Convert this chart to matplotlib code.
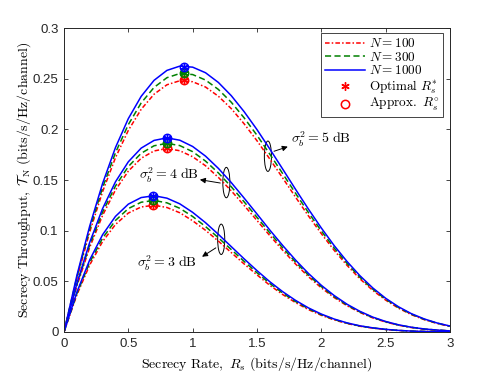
import matplotlib
matplotlib.use("Agg")
import matplotlib.pyplot as plt
from matplotlib.patches import Ellipse

plt.rcParams['mathtext.fontset'] = 'cm'
plt.rcParams['font.family'] = ['Liberation Sans', 'DejaVu Sans']

# secrecy rate grid (bits/s/Hz/channel)
rs = [0.0, 0.1, 0.2, 0.3, 0.4, 0.5, 0.6, 0.7, 0.8, 0.9, 1.0,
      1.1, 1.2, 1.3, 1.4, 1.5, 1.6, 1.7, 1.8, 1.9, 2.0,
      2.1, 2.2, 2.3, 2.4, 2.5, 2.6, 2.7, 2.8, 2.9, 3.0]

# sigma_b^2 = 5 dB
t5_n100 = [0, .0526, .0988, .1385, .1720, .1990, .2198, .2347, .2440, .2480, .2470,
           .2418, .2327, .2205, .2055, .1888, .1707, .1520, .1331, .1146, .0971,
           .0806, .0658, .0525, .0411, .0315, .0235, .0171, .0122, .0084, .0056]
t5_n300 = [0, .0541, .1017, .1425, .1769, .2047, .2261, .2414, .2510, .2551, .2541,
           .2487, .2394, .2268, .2114, .1942, .1755, .1563, .1369, .1179, .0998,
           .0829, .0677, .0540, .0423, .0324, .0242, .0176, .0125, .0087, .0057]
t5_n1000 = [0, .0557, .1046, .1466, .1820, .2106, .2326, .2484, .2582, .2624, .2614,
            .2559, .2463, .2333, .2175, .1998, .1806, .1608, .1408, .1213, .1027,
            .0853, .0696, .0556, .0435, .0333, .0249, .0181, .0129, .0089, .0059]

# sigma_b^2 = 4 dB
t4_n100 = [0, .0453, .0836, .1151, .1401, .1588, .1715, .1787, .1811, .1789, .1730,
           .1641, .1526, .1394, .1249, .1101, .0951, .0807, .0671, .0546, .0436,
           .0340, .0259, .0193, .0139, .0098, .0067, .0044, .0028, .0018, .0010]
t4_n300 = [0, .0466, .0860, .1184, .1441, .1633, .1764, .1838, .1862, .1840, .1780,
           .1687, .1570, .1434, .1285, .1132, .0978, .0830, .0690, .0562, .0448,
           .0350, .0266, .0198, .0143, .0101, .0069, .0046, .0029, .0019, .0011]
t4_n1000 = [0, .0479, .0885, .1218, .1482, .1680, .1815, .1891, .1916, .1893, .1831,
            .1736, .1615, .1475, .1322, .1165, .1006, .0854, .0710, .0578, .0461,
            .0360, .0274, .0204, .0147, .0104, .0071, .0047, .0030, .0019, .0011]

# sigma_b^2 = 3 dB
t3_n100 = [0, .0366, .0662, .0893, .1061, .1174, .1234, .1251, .1229, .1177, .1098,
           .1004, .0897, .0784, .0672, .0564, .0461, .0370, .0290, .0221, .0165,
           .0119, .0084, .0057, .0038, .0024, .0015, .0008, .0005, .0003, .0002]
t3_n300 = [0, .0379, .0687, .0926, .1101, .1218, .1281, .1298, .1275, .1221, .1140,
           .1041, .0930, .0814, .0697, .0585, .0479, .0384, .0301, .0230, .0171,
           .0124, .0087, .0059, .0040, .0025, .0015, .0009, .0005, .0003, .0002]
t3_n1000 = [0, .0393, .0712, .0960, .1141, .1262, .1327, .1345, .1321, .1265, .1181,
            .1079, .0964, .0843, .0722, .0606, .0496, .0398, .0312, .0238, .0177,
            .0128, .0090, .0061, .0041, .0026, .0016, .0009, .0005, .0003, .0002]

# optimal / approximate secrecy rates at the peaks (N = 100, 300, 1000)
opt_rs_5 = [0.93, 0.93, 0.93]
opt_t_5 = [0.2488, 0.2555, 0.2615]
opt_rs_4 = [0.80, 0.80, 0.80]
opt_t_4 = [0.1812, 0.1862, 0.1915]
opt_rs_3 = [0.69, 0.69, 0.69]
opt_t_3 = [0.1252, 0.1300, 0.1347]

n_labels = ['$N = 100$', '$N = 300$', '$N = 1000$']
colors = ['#ff0000', '#008000', '#0000ff']
dashes = [(3.0, 1.4, 1.0, 1.4), (4.0, 2.2), ()]
asterisk = (6, 2, 0)

fig = plt.figure(figsize=(4.98, 3.74), dpi=100)
ax = fig.add_axes([0.1285, 0.1123, 0.775, 0.8127])

groups = [(t5_n100, t5_n300, t5_n1000), (t4_n100, t4_n300, t4_n1000),
          (t3_n100, t3_n300, t3_n1000)]
for gi, grp in enumerate(groups):
    for k in range(3):
        line, = ax.plot(rs, grp[k], color=colors[k], linewidth=1.1,
                        label=n_labels[k] if gi == 0 else None)
        if dashes[k]:
            line.set_dashes(dashes[k])

for xs, ys in [(opt_rs_5, opt_t_5), (opt_rs_4, opt_t_4), (opt_rs_3, opt_t_3)]:
    for k in range(3):
        ax.plot(xs[k], ys[k], marker=asterisk, color=colors[k], markersize=6,
                markeredgewidth=1.0, linestyle='none')
        ax.plot(xs[k], ys[k], marker='o', markerfacecolor='none',
                markeredgecolor=colors[k], markersize=6, markeredgewidth=1.1,
                linestyle='none')

# legend-only handles for the markers
ax.plot([], [], marker=asterisk, color='#ff0000', markersize=6,
        markeredgewidth=1.0, linestyle='none',
        label=r'$\mathrm{Optimal}\ R_s^{*}$')
ax.plot([], [], marker='o', markerfacecolor='none', markeredgecolor='#ff0000',
        markersize=6, markeredgewidth=1.1, linestyle='none',
        label=r'$\mathrm{Approx.}\ R_s^{\circ}$')

# ellipses and labels for each sigma_b^2
ell_w = 0.055
ell_h = 0.030
for cx, cy in [(1.585, 0.1735), (1.262, 0.1475), (1.222, 0.0915)]:
    ax.add_patch(Ellipse((cx, cy), ell_w, ell_h, fill=False, edgecolor='black',
                         linewidth=0.7))

arrow = dict(arrowstyle='-|>', color='black', linewidth=0.7, mutation_scale=8)
ax.annotate('', xy=(1.76, 0.1838), xytext=(1.612, 0.1775), arrowprops=arrow)
ax.text(1.765, 0.1905, r'$\sigma_b^2 = 5\ \mathrm{dB}$', fontsize=10,
        va='center', ha='left')

ax.annotate('', xy=(1.035, 0.1508), xytext=(1.236, 0.1466), arrowprops=arrow)
ax.text(0.585, 0.155, r'$\sigma_b^2 = 4\ \mathrm{dB}$', fontsize=10,
        va='center', ha='left')

ax.annotate('', xy=(1.055, 0.0728), xytext=(1.198, 0.0845), arrowprops=arrow)
ax.text(0.565, 0.0675, r'$\sigma_b^2 = 3\ \mathrm{dB}$', fontsize=10,
        va='center', ha='left')

ax.set_xlim(0, 3)
ax.set_ylim(0, 0.3)
ax.set_xticks([0, 0.5, 1, 1.5, 2, 2.5, 3])
ax.set_xticklabels(['0', '0.5', '1', '1.5', '2', '2.5', '3'])
ax.set_yticks([0, 0.05, 0.1, 0.15, 0.2, 0.25, 0.3])
ax.set_yticklabels(['0', '0.05', '0.1', '0.15', '0.2', '0.25', '0.3'])
ax.tick_params(direction='in', top=True, right=True, labelsize=9.5, length=3,
               width=0.6, colors='#262626', pad=4)
for sp in ax.spines.values():
    sp.set_linewidth(0.7)
    sp.set_color('#262626')

ax.set_xlabel(r'$\mathrm{Secrecy\ Rate,}\ R_s\ \mathrm{(bits/s/Hz/channel)}$',
              fontsize=10, labelpad=4)
ax.set_ylabel(r'$\mathrm{Secrecy\ Throughput,}\ \mathcal{T}_{\mathrm{N}}\ \mathrm{(bits/s/Hz/channel)}$',
              fontsize=10)
ax.yaxis.set_label_coords(-0.08, 0.5)

leg = ax.legend(loc='upper right', fontsize=9.5, frameon=True, fancybox=False,
                edgecolor='#262626', framealpha=1, handlelength=3.0,
                borderpad=0.3, labelspacing=0.05, handletextpad=0.3,
                borderaxespad=0.0, bbox_to_anchor=(0.983, 0.983))
leg.get_frame().set_linewidth(0.6)

fig.savefig('out.png', dpi=100)
